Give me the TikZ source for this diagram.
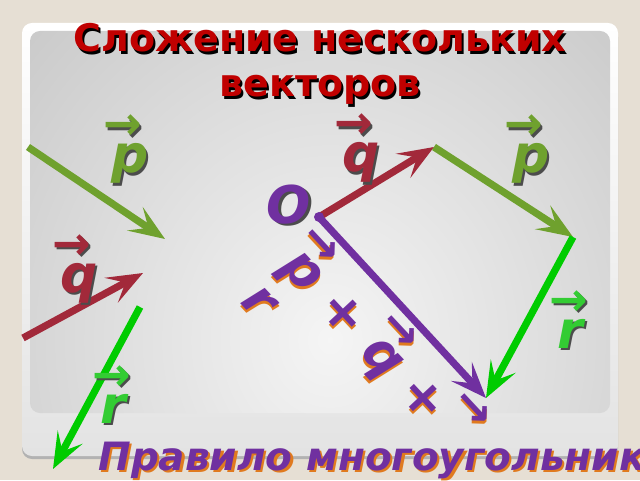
\documentclass[tikz,border=0pt]{standalone}
\usepackage{fontspec}
\setmainfont{DejaVu Sans}
\usetikzlibrary{arrows.meta,positioning}
\definecolor{beige}{HTML}{E6DFD4}
\definecolor{titlered}{HTML}{C00000}
\definecolor{pgreen}{HTML}{6FA12E}
\definecolor{qred}{HTML}{A2293A}
\definecolor{rgreen}{HTML}{00CC00}
\definecolor{rlabel}{HTML}{33CC33}
\definecolor{sumviolet}{HTML}{7030A0}
\definecolor{shadeorange}{HTML}{E07A1F}
% text with a shifted copy behind it
\newcommand\shad[2]{\leavevmode\rlap{\kern1.1pt\raisebox{-1.1pt}{\color{#1}#2}}#2}
% arrow over a letter
\newcommand\vekmark{\smash{\raisebox{16.5pt}{\fontsize{23}{23}\selectfont\bfseries →}}}
\newcommand\vek[1]{\rlap{\kern-0.15em\vekmark}#1}
\tikzset{
  vec/.style={line width=3.6pt, -{Stealth[length=18pt,width=14pt,inset=8pt]}},
  lbl/.style={font=\fontsize{26}{30}\selectfont\bfseries\itshape, inner sep=0pt, anchor=base},
}

\begin{document}
\begin{tikzpicture}[x=0.5pt,y=-0.5pt]
    % Fundo
    \useasboundingbox (0,0) rectangle (640,480);
    \fill[beige] (0,0) rectangle (640,480);
    \fill[rounded corners=5pt, gray!60] (22,27) rectangle (618,459);
    \shade[rounded corners=5pt, top color=white, bottom color=gray!22] (22,23) rectangle (618,456);
    \begin{scope}
        \clip[rounded corners=5pt] (30,31) rectangle (610,413);
        \shade[inner color=gray!8, outer color=gray!58] (330,340) ellipse (620 and 680);
    \end{scope}

    % Titulo
    \node[font=\fontsize{19}{22.5}\selectfont\bfseries, text=titlered, align=center,
          inner sep=0pt, anchor=base] (title) at (320,97)
          {\shad{black}{Сложение нескольких}\\\shad{black}{векторов}};

    % Vetores soltos
    \coordinate (p1) at (28,147);
    \coordinate (p2) at (165,239);
    \coordinate (q1) at (23,338);
    \coordinate (q2) at (143,273);
    \coordinate (r1) at (140,307);
    \coordinate (r2) at (53,469);
    \draw[vec, pgreen] (p1) -- (p2);
    \draw[vec, qred] (q1) -- (q2);
    \draw[vec, rgreen] (r1) -- (r2);
    \node[lbl, text=pgreen] (lp) at (130,173) {\shad{black!70}{\vek{p}}};
    \node[lbl, text=qred] (lq) at (79,292) {\shad{black!70}{\vek{q}}};
    \node[lbl, text=rlabel] (lr) at (113,423) {\shad{black!70}{\vek{r}}};

    % Poligono
    \coordinate (O) at (319,217);
    \coordinate (Q) at (434,147);
    \coordinate (P) at (573,237);
    \coordinate (R) at (486,398);
    \draw[vec, qred] (O) -- (Q);
    \draw[vec, pgreen] (Q) -- (P);
    \draw[vec, rgreen] (P) -- (R);
    \draw[vec, sumviolet] (O) -- (R);
    \fill[sumviolet] (O) circle (5);
    \node[lbl, text=sumviolet] (oname) at (289,223) {\shad{black!70}{O}};
    \node[lbl, text=qred] (pq) at (361,172) {\shad{black!70}{\vek{q}}};
    \node[lbl, text=pgreen] (pp) at (531,173) {\shad{black!70}{\vek{p}}};
    \node[lbl, text=rlabel] (pr) at (570,348) {\shad{black!70}{\vek{r}}};

    % Soma
    \node[lbl, anchor=center, rotate=-47, text=sumviolet] (sum1) at (360,340)
         {\shad{shadeorange}{\vek{p} + \vek{q} +\rlap{\vekmark}}};
    \node[lbl, anchor=center, rotate=-47, text=sumviolet] (sum2) at (258,303)
         {\shad{shadeorange}{r}};

    % Regra
    \node[font=\fontsize{19.5}{22}\selectfont\bfseries\itshape, text=sumviolet,
          inner sep=0pt, anchor=base west] (rule) at (98,470)
          {\shad{shadeorange}{Правило многоугольника}};
\end{tikzpicture}
\end{document}
